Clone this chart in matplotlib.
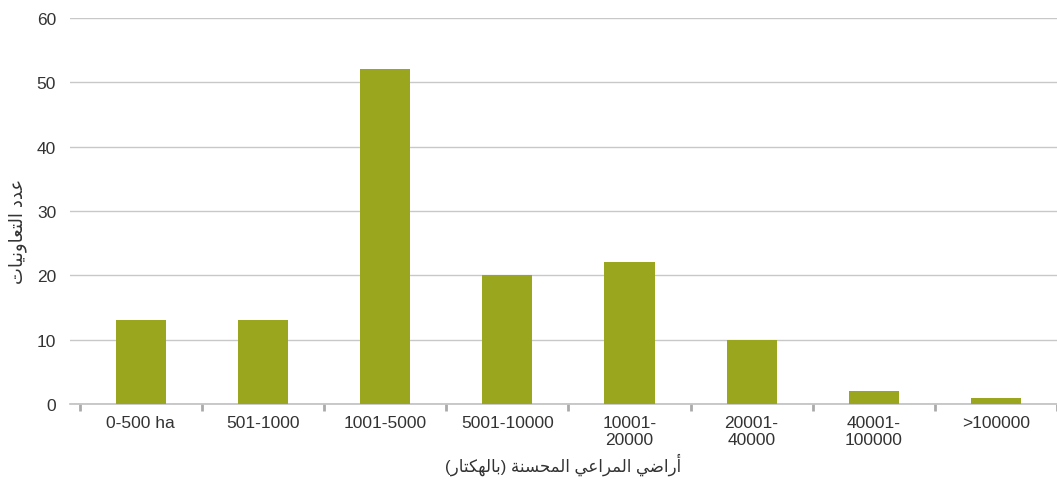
import numpy as np
import matplotlib.pyplot as plt

categories = ['0-500 ha', '501-1000', '1001-5000', '5001-10000',
              '10001-\n20000', '20001-\n40000', '40001-\n100000', '>100000']
counts = [13, 13, 52, 20, 22, 10, 2, 1]

xlabel_ar = 'أراضي المراعي المحسنة (بالهكتار)'
ylabel_ar = 'عدد التعاونيات'

# minimal arabic shaping (no reshaper available): isolated, final, initial, medial
FORMS = {
    'ا': ('\uFE8D', '\uFE8E'), 'أ': ('\uFE83', '\uFE84'),
    'ب': ('\uFE8F', '\uFE90', '\uFE91', '\uFE92'), 'ة': ('\uFE93', '\uFE94'),
    'ت': ('\uFE95', '\uFE96', '\uFE97', '\uFE98'), 'ح': ('\uFEA1', '\uFEA2', '\uFEA3', '\uFEA4'),
    'د': ('\uFEA9', '\uFEAA'), 'ر': ('\uFEAD', '\uFEAE'),
    'س': ('\uFEB1', '\uFEB2', '\uFEB3', '\uFEB4'), 'ض': ('\uFEBD', '\uFEBE', '\uFEBF', '\uFEC0'),
    'ع': ('\uFEC9', '\uFECA', '\uFECB', '\uFECC'), 'ك': ('\uFED9', '\uFEDA', '\uFEDB', '\uFEDC'),
    'ل': ('\uFEDD', '\uFEDE', '\uFEDF', '\uFEE0'), 'م': ('\uFEE1', '\uFEE2', '\uFEE3', '\uFEE4'),
    'ن': ('\uFEE5', '\uFEE6', '\uFEE7', '\uFEE8'), 'ه': ('\uFEE9', '\uFEEA', '\uFEEB', '\uFEEC'),
    'و': ('\uFEED', '\uFEEE'), 'ي': ('\uFEF1', '\uFEF2', '\uFEF3', '\uFEF4'),
}


def shape(s):
    out = []
    for i, c in enumerate(s):
        if c not in FORMS:
            out.append(c)
            continue
        prev = s[i - 1] if i > 0 else ''
        nxt = s[i + 1] if i + 1 < len(s) else ''
        joins_prev = prev in FORMS and len(FORMS[prev]) == 4
        joins_next = nxt in FORMS and len(FORMS[c]) == 4
        f = FORMS[c]
        if joins_prev and joins_next:
            out.append(f[3])
        elif joins_prev:
            out.append(f[1])
        elif joins_next:
            out.append(f[2])
        else:
            out.append(f[0])
    vis = ''.join(reversed(out))
    return vis.translate(str.maketrans('()', ')('))


plt.rcParams['font.family'] = ['Liberation Sans', 'DejaVu Sans']

fig = plt.figure(figsize=(10.57, 4.81), dpi=100)
ax = fig.add_axes([70 / 1057, 76 / 481, 987 / 1057, 386 / 481])

x = np.arange(len(categories))
ax.bar(x, counts, width=0.41, color='#9aa61d', zorder=3)

ax.set_ylim(0, 60)
ax.set_xlim(-0.58, 7.5)
ax.set_yticks(np.arange(0, 61, 10))
ax.yaxis.grid(True, color='#c8c8c8', linewidth=1)
ax.set_axisbelow(True)
for s in ['top', 'right', 'left']:
    ax.spines[s].set_visible(False)
ax.spines['bottom'].set_color('#c0c0c0')
ax.spines['bottom'].set_linewidth(1.2)

ax.tick_params(axis='y', length=0, labelsize=12.5, labelcolor='#333333', pad=10)
ax.set_xticks(np.arange(-0.5, 8, 1))
ax.set_xticks(x, minor=True)
ax.set_xticklabels([])
ax.set_xticklabels(categories, minor=True)
ax.tick_params(axis='x', which='major', length=5, width=2, color='#aaaaaa')
ax.tick_params(axis='x', which='minor', length=0, labelsize=12.5, labelcolor='#333333', pad=8)
for t in ax.get_xticklabels(minor=True):
    t.set_linespacing(1.15)

ax.set_xlabel(shape(xlabel_ar), fontsize=12, color='#333333', labelpad=4)
ax.set_ylabel(shape(ylabel_ar), fontsize=13, color='#333333')
ax.yaxis.set_label_coords(-0.044, 0.45)

fig.savefig('out.png', dpi=100)
